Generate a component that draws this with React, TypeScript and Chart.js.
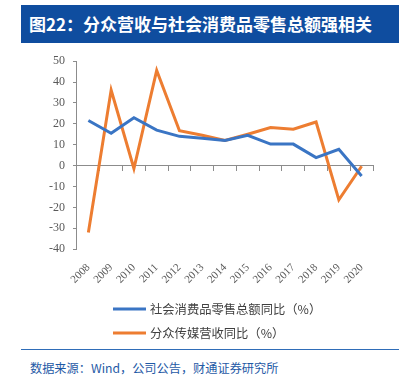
import React, { useEffect, useRef } from "react";
import { Chart, registerables } from "chart.js";

Chart.register(...registerables);

const years = ["2008", "2009", "2010", "2011", "2012", "2013", "2014", "2015", "2016", "2017", "2018", "2019", "2020"];
const retailYoY = [21.6, 15.5, 22.9, 17.0, 14.0, 13.1, 12.0, 14.5, 10.3, 10.3, 3.8, 7.8, -5.0];
const focusRevenueYoY = [-32.0, 36.2, -1.4, 45.6, 16.7, 14.5, 12.0, 15.0, 18.2, 17.4, 20.9, -16.4, -0.3];
const seriesNames = ["社会消费品零售总额同比（%）", "分众传媒营收同比（%）"];
const yTicks = { min: -40, max: 50, step: 10 };

const BLUE = "#3a75c4";
const ORANGE = "#ed7d31";
const AXIS = "#8c8c8c";
const TICKTEXT = "#595959";

const legendPlugin = {
  id: "stackedLegend",
  afterDraw(chart: any) {
    const { ctx, chartArea } = chart;
    ctx.save();
    ctx.font = '12.3px "Noto Sans CJK SC"';
    ctx.textBaseline = "middle";
    chart.data.datasets.forEach((ds: any, i: number) => {
      const y = chartArea.bottom + 60 + i * 24;
      const x0 = chartArea.left + 36;
      ctx.strokeStyle = ds.borderColor;
      ctx.lineWidth = 3;
      ctx.beginPath();
      ctx.moveTo(x0, y);
      ctx.lineTo(x0 + 33, y);
      ctx.stroke();
      ctx.fillStyle = "#404040";
      ctx.fillText(ds.label, x0 + 37, y);
    });
    ctx.restore();
  },
};

export default function App() {
  const ref = useRef<HTMLCanvasElement | null>(null);
  useEffect(() => {
    if (!ref.current) return;
    const chart = new Chart(ref.current, {
      type: "line",
      data: {
        labels: years,
        datasets: [
          { label: seriesNames[0], data: retailYoY, borderColor: BLUE, backgroundColor: BLUE, borderWidth: 3, pointRadius: 0, tension: 0 },
          { label: seriesNames[1], data: focusRevenueYoY, borderColor: ORANGE, backgroundColor: ORANGE, borderWidth: 3, pointRadius: 0, tension: 0 },
        ],
      },
      options: {
        responsive: false,
        animation: false,
        layout: { padding: { left: 41, right: 43, top: 5, bottom: 47 } },
        plugins: { legend: { display: false }, tooltip: { enabled: false } },
        scales: {
          x: {
            type: "category",
            offset: true,
            position: "bottom",
            border: { display: false },
            grid: { display: false, drawTicks: false },
            ticks: {
              autoSkip: false,
              maxRotation: 45,
              minRotation: 45,
              padding: 12,
              color: TICKTEXT,
              font: { family: '"Liberation Serif", "Times New Roman", serif', size: 11 },
            },
          },
          x0: {
            type: "category",
            offset: true,
            position: { y: 0 } as any,
            border: { display: true, color: AXIS, width: 1 },
            grid: { display: true, offset: true, drawOnChartArea: false, drawTicks: true, tickLength: 5, color: AXIS },
            ticks: { display: false },
          },
          y: {
            min: yTicks.min,
            max: yTicks.max,
            border: { display: true, color: AXIS, width: 1 },
            grid: { display: true, drawOnChartArea: false, drawTicks: true, tickLength: 4, color: AXIS },
            ticks: {
              stepSize: yTicks.step,
              padding: 8,
              color: TICKTEXT,
              font: { family: '"Liberation Serif", "Times New Roman", serif', size: 12 },
            },
          },
        },
      },
      plugins: [legendPlugin],
    });
    return () => chart.destroy();
  }, []);

  return (
    <div style={{ position: "fixed", left: 0, top: 0, width: 416, height: 388, background: "#fff", fontFamily: '"Noto Sans CJK SC", sans-serif' }}>
      <div style={{ position: "absolute", left: 21, top: 5, width: 378, height: 38, background: "#0f4d9f", color: "#fff", fontWeight: 700, fontSize: 17, lineHeight: "38px", paddingLeft: 8, boxSizing: "border-box", whiteSpace: "nowrap" }}>
        图22：分众营收与社会消费品零售总额强相关
      </div>
      <canvas ref={ref} width={416} height={299} style={{ position: "absolute", left: 0, top: 46, width: 416, height: 299 }} />
      <div style={{ position: "absolute", left: 21, top: 349, width: 378, height: 0, borderTop: "1.5px solid #2f6db8" }} />
      <div style={{ position: "absolute", left: 30, top: 359, fontSize: 12.2, color: "#1f5aa6", whiteSpace: "nowrap", lineHeight: "18px" }}>
        数据来源：Wind，公司公告，财通证券研究所
      </div>
    </div>
  );
}
